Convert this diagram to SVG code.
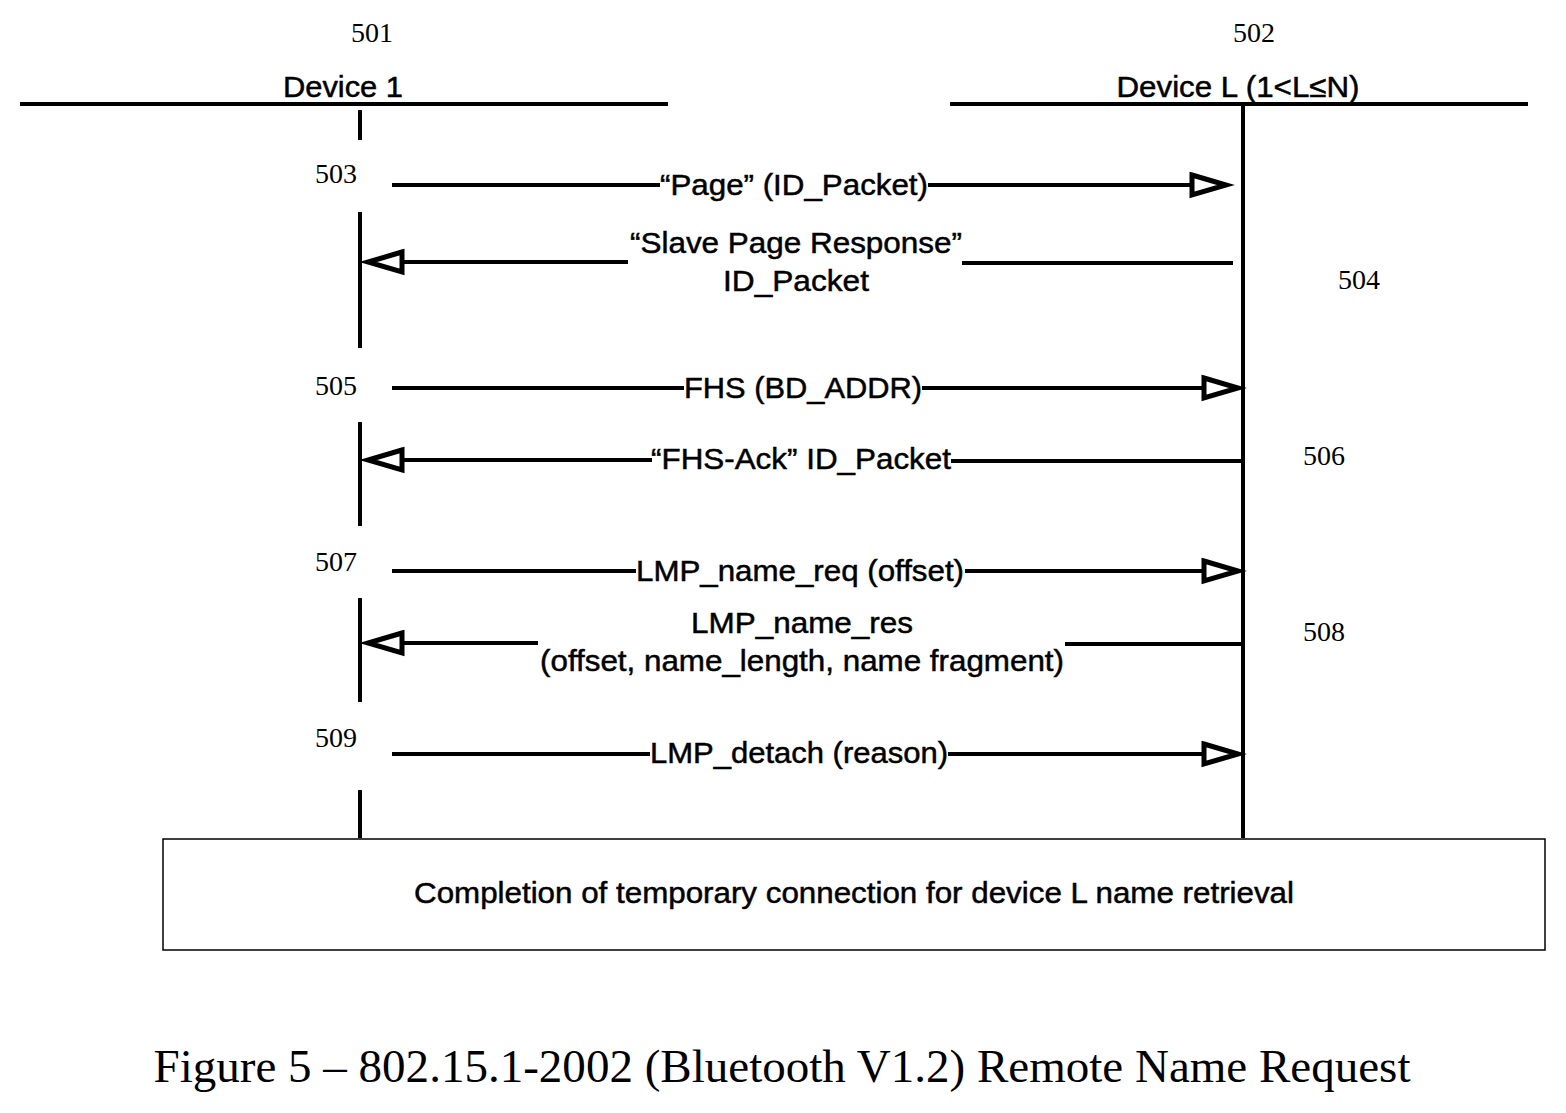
<svg xmlns="http://www.w3.org/2000/svg" width="1566" height="1113" viewBox="0 0 1566 1113">
<style>
.s{font-family:"Liberation Sans",Arial,sans-serif;font-size:30px;text-anchor:middle;fill:#000;stroke:#000;stroke-width:0.5}
.n{font-family:"Liberation Serif","Times New Roman",serif;font-size:28px;text-anchor:middle;fill:#000}
.l{stroke:#000;stroke-width:4;fill:none}
.h{stroke:#000;stroke-width:5;fill:#fff;stroke-linejoin:miter}
</style>
<rect width="1566" height="1113" fill="#fff"/>
<g id="device1">
<text class="n" x="372" y="42">501</text>
<text class="s" x="343" y="97" textLength="120" lengthAdjust="spacingAndGlyphs">Device 1</text>
<line class="l" x1="20" y1="104" x2="668" y2="104"/>
<path class="l" d="M360 110V140M360 212V348M360 422V526M360 598V702M360 790V838"/>
</g>
<g id="deviceL">
<text class="n" x="1254" y="42">502</text>
<text class="s" x="1238" y="97" textLength="243" lengthAdjust="spacingAndGlyphs">Device L (1&lt;L≤N)</text>
<line class="l" x1="950" y1="104" x2="1528" y2="104"/>
<line class="l" x1="1243" y1="106" x2="1243" y2="838"/>
</g>
<g id="connectors">
<path class="l" d="M392 185H660M928 185H1192"/>
<polygon class="h" points="1192,175 1226,185 1192,195"/>
<path class="l" d="M1233 263H962M628 262H402"/>
<polygon class="h" points="402,252 368,262 402,272"/>
<path class="l" d="M392 388H684M922 388H1204"/>
<polygon class="h" points="1204,378 1238,388 1204,398"/>
<path class="l" d="M1243 461H951M652 460H402"/>
<polygon class="h" points="402,450 368,460 402,470"/>
<path class="l" d="M392 571H636M965 571H1204"/>
<polygon class="h" points="1204,561 1238,571 1204,581"/>
<path class="l" d="M1243 644H1065M538 643H402"/>
<polygon class="h" points="402,633 368,643 402,653"/>
<path class="l" d="M392 754H650M948 754H1204"/>
<polygon class="h" points="1204,744 1238,754 1204,764"/>
</g>
<g id="labels">
<text class="s" x="794" y="195" textLength="268" lengthAdjust="spacingAndGlyphs">“Page” (ID_Packet)</text>
<text class="s" x="796" y="253" textLength="332" lengthAdjust="spacingAndGlyphs">“Slave Page Response”</text>
<text class="s" x="796" y="291" textLength="146" lengthAdjust="spacingAndGlyphs">ID_Packet</text>
<text class="s" x="803" y="398" textLength="238" lengthAdjust="spacingAndGlyphs">FHS (BD_ADDR)</text>
<text class="s" x="801" y="469" textLength="300" lengthAdjust="spacingAndGlyphs">“FHS-Ack” ID_Packet</text>
<text class="s" x="800" y="581" textLength="328" lengthAdjust="spacingAndGlyphs">LMP_name_req (offset)</text>
<text class="s" x="802" y="633" textLength="222" lengthAdjust="spacingAndGlyphs">LMP_name_res</text>
<text class="s" x="802" y="671" textLength="524" lengthAdjust="spacingAndGlyphs">(offset, name_length, name fragment)</text>
<text class="s" x="799" y="763" textLength="298" lengthAdjust="spacingAndGlyphs">LMP_detach (reason)</text>
<text class="n" x="336" y="183">503</text>
<text class="n" x="1359" y="289">504</text>
<text class="n" x="336" y="395">505</text>
<text class="n" x="1324" y="465">506</text>
<text class="n" x="336" y="571">507</text>
<text class="n" x="1324" y="641">508</text>
<text class="n" x="336" y="747">509</text>
</g>
<g id="completion">
<rect x="163" y="839" width="1382" height="111" fill="#fff" stroke="#000" stroke-width="1.5"/>
<text class="s" x="854" y="903" font-size="29" textLength="880" lengthAdjust="spacingAndGlyphs">Completion of temporary connection for device L name retrieval</text>
</g>
<text x="782" y="1082" font-family="Liberation Serif,Times New Roman,serif" font-size="46" text-anchor="middle" textLength="1257" lengthAdjust="spacingAndGlyphs">Figure 5 – 802.15.1-2002 (Bluetooth V1.2) Remote Name Request</text>
</svg>
